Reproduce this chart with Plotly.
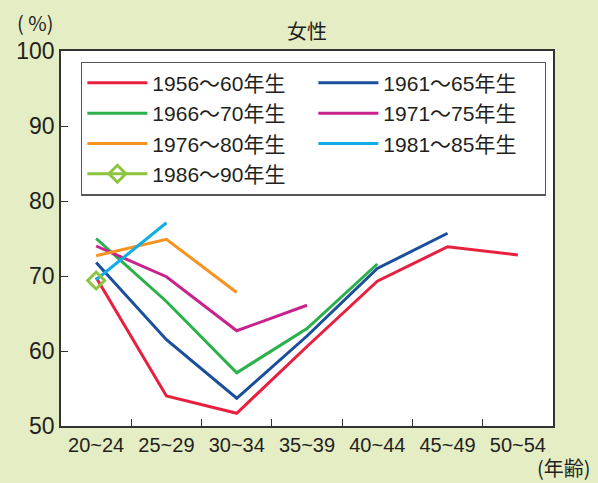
import plotly.graph_objects as go

# Age groups on the x axis
age_groups = ["20~24", "25~29", "30~34", "35~39", "40~44", "45~49", "50~54"]

# Employment rate (%) of women by birth cohort
cohort_1956_60 = [69.8, 54.0, 51.7, 60.6, 69.3, 73.9, 72.8]
cohort_1961_65 = [71.8, 61.5, 53.7, 62.0, 71.0, 75.7]
cohort_1966_70 = [75.0, 66.6, 57.1, 63.0, 71.6]
cohort_1971_75 = [74.0, 69.9, 62.7, 66.1]
cohort_1976_80 = [72.7, 74.9, 67.8]
cohort_1981_85 = [69.5, 77.1]
cohort_1986_90 = [69.4]

cohort_names = ["1956～60年生", "1961～65年生", "1966～70年生", "1971～75年生",
                "1976～80年生", "1981～85年生", "1986～90年生"]
cohort_values = [cohort_1956_60, cohort_1961_65, cohort_1966_70, cohort_1971_75,
                 cohort_1976_80, cohort_1981_85, cohort_1986_90]
cohort_colors = ["#e8203f", "#1a4f9c", "#2bb04a", "#c8228c",
                 "#f7931e", "#11ade6", "#8cc43f"]

BG = "#e5edc4"
TXT = "#231f20"
JP = "Noto Sans CJK JP, Noto Sans, sans-serif"
LEG = "Liberation Sans, Noto Sans CJK JP, sans-serif"

fig = go.Figure()
for name, vals, col in zip(cohort_names, cohort_values, cohort_colors):
    if len(vals) == 1:
        fig.add_trace(go.Scatter(
            x=age_groups[:1], y=vals, name=name, mode="lines+markers",
            line=dict(color=col, width=3),
            marker=dict(symbol="diamond-open", size=13, color=col,
                        line=dict(width=3, color=col)),
        ))
    else:
        fig.add_trace(go.Scatter(
            x=age_groups[:len(vals)], y=vals, name=name, mode="lines",
            line=dict(color=col, width=3),
        ))

fig.update_layout(
    width=598, height=483,
    paper_bgcolor=BG, plot_bgcolor="white",
    margin=dict(l=61, r=45, t=51, b=57),
    showlegend=True,
    legend=dict(
        orientation="h", entrywidth=156, entrywidthmode="pixels", itemwidth=60,
        x=0.041, y=0.972, xanchor="left", yanchor="top",
        bgcolor="white", bordercolor="#555555", borderwidth=1.2,
        font=dict(family=LEG, size=21, color=TXT),
        tracegroupgap=0,
    ),
    font=dict(family=JP, color=TXT),
)

fig.update_xaxes(
    type="category", categoryorder="array", categoryarray=age_groups,
    range=[-0.5, 6.5], tickson="boundaries", tickangle=0, automargin=False,
    ticks="inside", ticklen=7, tickcolor="#333333",
    showline=True, linecolor="#333333", linewidth=1.5, mirror=True,
    showgrid=False, zeroline=False,
    tickfont=dict(family="Liberation Sans Narrow, Liberation Sans, sans-serif",
                  size=20, color=TXT),
)
fig.update_yaxes(
    range=[50, 100], tickvals=[50, 60, 70, 80, 90, 100], automargin=False,
    ticks="inside", ticklen=7, tickcolor="#333333",
    showline=True, linecolor="#333333", linewidth=1.5, mirror=True,
    showgrid=False, zeroline=False,
    tickfont=dict(family="Liberation Sans, Arial, sans-serif", size=23, color=TXT),
)

fig.add_annotation(text="女性", xref="paper", yref="paper", x=0.5, y=1.0,
                   yshift=21, showarrow=False, yanchor="middle",
                   font=dict(family=JP, size=20, color=TXT))
fig.add_annotation(text="( %)", xref="paper", yref="paper", x=-0.053, y=1.0,
                   yshift=29, showarrow=False, xanchor="center", yanchor="middle",
                   font=dict(family=JP, size=20, color=TXT))
fig.add_annotation(text="(年齢)", xref="paper", yref="paper", x=1.0, y=0.0,
                   xshift=40, yshift=-41, showarrow=False, xanchor="right",
                   yanchor="middle", font=dict(family=JP, size=20, color=TXT))

fig.write_html("out.html")
